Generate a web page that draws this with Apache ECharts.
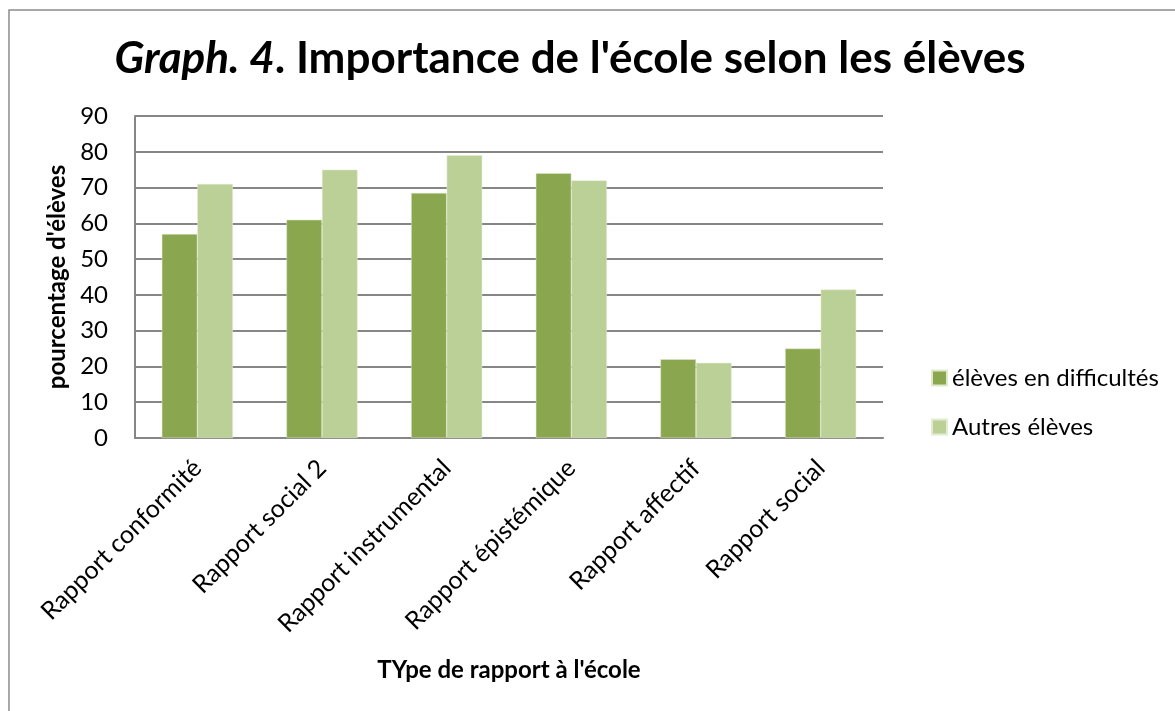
<!DOCTYPE html>
<html>
<head>
<meta charset="utf-8">
<script src="https://cdn.jsdelivr.net/npm/echarts@6/dist/echarts.min.js"></script>
<style>
  html, body { margin: 0; padding: 0; background: #fff; }
  #chart { width: 1175px; height: 711px; }
</style>
</head>
<body>
<div id="chart"></div>
<script>
// données
const categories = ['Rapport conformité', 'Rapport social 2', 'Rapport instrumental', 'Rapport épistémique', 'Rapport affectif', 'Rapport social'];
const elevesDifficultes = [57, 61, 68.5, 74, 22, 25];
const autresEleves = [71, 75, 79, 72, 21, 41.5];
const yTicks = [0, 10, 20, 30, 40, 50, 60, 70, 80, 90];

const font = 'Lato, "Open Sans", sans-serif';
const chart = echarts.init(document.getElementById('chart'));

chart.setOption({
  animation: false,
  title: {
    text: '{i|Graph. 4}{b|. Importance de l\'école selon les élèves}',
    left: 565,
    textAlign: 'center',
    top: 32,
    textStyle: {
      rich: {
        i: { fontFamily: font, fontSize: 44, fontWeight: 'bold', fontStyle: 'italic', color: '#000' },
        b: { fontFamily: font, fontSize: 44, fontWeight: 'bold', color: '#000' }
      }
    }
  },
  graphic: [{
    type: 'rect',
    shape: { x: 9, y: 10, width: 1180, height: 720 },
    style: { fill: 'none', stroke: '#8c8c8c', lineWidth: 1.5 },
    z: -1
  }],
  legend: {
    orient: 'vertical',
    left: 926,
    top: 361,
    itemWidth: 15,
    itemHeight: 15,
    itemGap: 25,
    icon: 'rect',
    textStyle: { fontFamily: font, fontSize: 24, color: '#000' },
    data: ['élèves en difficultés', 'Autres élèves']
  },
  grid: { left: 135, right: 292, top: 116, bottom: 273 },
  xAxis: {
    type: 'category',
    data: categories,
    name: 'TYpe de rapport à l\'école',
    nameLocation: 'middle',
    nameGap: 220,
    nameTextStyle: { fontFamily: font, fontSize: 24, fontWeight: 'bold', color: '#000' },
    axisLine: { lineStyle: { color: '#868686', width: 2 } },
    axisTick: { show: false },
    axisLabel: { rotate: 45, margin: 26, fontFamily: font, fontSize: 25, color: '#000', interval: 0 }
  },
  yAxis: {
    type: 'value',
    min: yTicks[0],
    max: yTicks[yTicks.length - 1],
    interval: 10,
    name: 'pourcentage d\'élèves',
    nameLocation: 'middle',
    nameGap: 60,
    nameTextStyle: { fontFamily: font, fontSize: 24, fontWeight: 'bold', color: '#000' },
    axisLine: { show: true, lineStyle: { color: '#868686', width: 2 } },
    axisTick: { show: false },
    axisLabel: { margin: 27, fontFamily: font, fontSize: 24, color: '#000' },
    splitLine: { lineStyle: { color: '#868686', width: 2 } }
  },
  series: [{
    name: 'élèves en difficultés',
    type: 'bar',
    data: elevesDifficultes,
    barGap: '0%',
    barCategoryGap: '43%',
    itemStyle: { color: '#8aa64f', borderColor: '#dfe9cc', borderWidth: 0.5 }
  }, {
    name: 'Autres élèves',
    type: 'bar',
    data: autresEleves,
    itemStyle: { color: '#bbd097', borderColor: '#e3ecd2', borderWidth: 0.5 }
  }]
});
</script>
</body>
</html>
